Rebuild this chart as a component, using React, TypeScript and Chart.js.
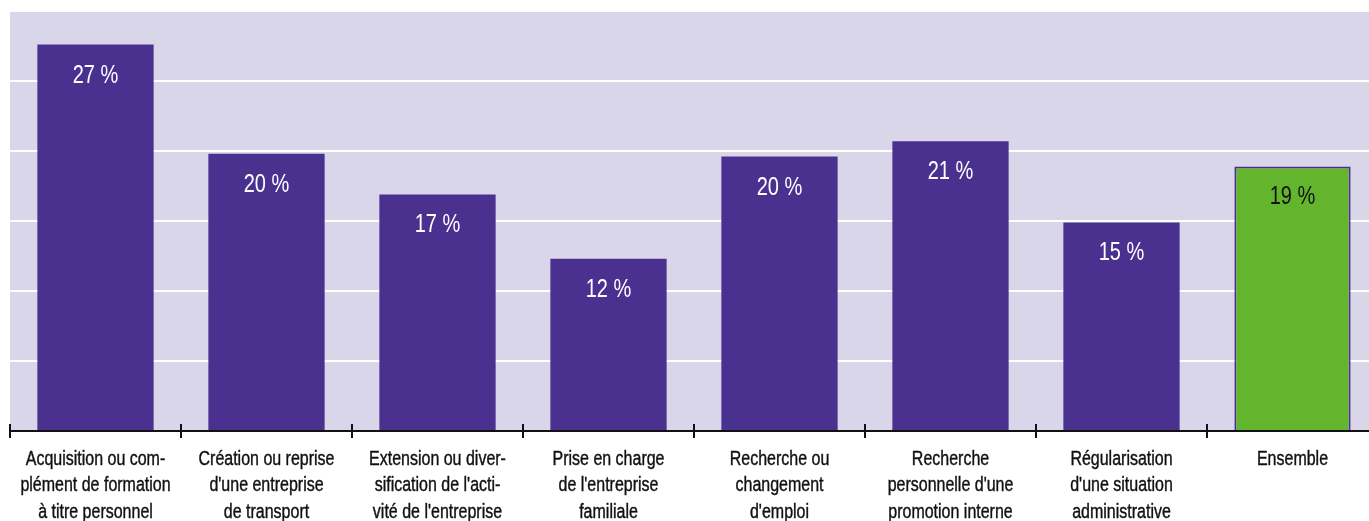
import React, { useEffect, useRef } from "react";
import { Chart, registerables } from "chart.js";

Chart.register(...registerables);

const categories: string[][] = [
  ["Acquisition ou com-", "plément de formation", "à titre personnel"],
  ["Création ou reprise", "d'une entreprise", "de transport"],
  ["Extension ou diver-", "sification de l'acti-", "vité de l'entreprise"],
  ["Prise en charge", "de l'entreprise", "familiale"],
  ["Recherche ou", "changement", "d'emploi"],
  ["Recherche", "personnelle d'une", "promotion interne"],
  ["Régularisation", "d'une situation", "administrative"],
  ["Ensemble"],
];
const values: number[] = [27.6, 19.8, 16.9, 12.3, 19.6, 20.7, 14.9, 18.9];
const valueLabels: string[] = ["27 %", "20 %", "17 %", "12 %", "20 %", "21 %", "15 %", "19 %"];
const barColors: string[] = ["#4a3190", "#4a3190", "#4a3190", "#4a3190", "#4a3190", "#4a3190", "#4a3190", "#64b52e"];
const labelColors: string[] = ["#ffffff", "#ffffff", "#ffffff", "#ffffff", "#ffffff", "#ffffff", "#ffffff", "#111111"];
const borderWidths: number[] = [0, 0, 0, 0, 0, 0, 0, 2];

const FONT = "'Liberation Sans', Arial, sans-serif";

function drawNarrow(ctx: CanvasRenderingContext2D, text: string, x: number, y: number, scaleX: number, stroke: number) {
  ctx.save();
  ctx.translate(x, y);
  ctx.scale(scaleX, 1);
  ctx.fillText(text, 0, 0);
  if (stroke > 0) {
    ctx.lineWidth = stroke;
    ctx.strokeStyle = ctx.fillStyle as string;
    ctx.strokeText(text, 0, 0);
  }
  ctx.restore();
}

const bgPlugin = {
  id: "plotBg",
  beforeDraw(chart: any) {
    const { ctx, chartArea } = chart;
    ctx.save();
    ctx.fillStyle = "#d9d6e9";
    ctx.fillRect(chartArea.left, chartArea.top, chartArea.right - chartArea.left, chartArea.bottom - chartArea.top);
    ctx.restore();
  },
};

const overlayPlugin = {
  id: "overlay",
  afterDraw(chart: any) {
    const { ctx, chartArea } = chart;
    const xs = chart.scales.x;
    const meta = chart.getDatasetMeta(0);
    ctx.save();
    // value labels
    ctx.font = `25px ${FONT}`;
    ctx.textAlign = "center";
    ctx.textBaseline = "alphabetic";
    meta.data.forEach((bar: any, i: number) => {
      ctx.fillStyle = labelColors[i];
      drawNarrow(ctx, valueLabels[i], bar.x, bar.y + 38, 0.8, 0);
    });
    // category labels
    ctx.font = `19.5px ${FONT}`;
    ctx.fillStyle = "#111111";
    categories.forEach((lines, i) => {
      const x = xs.getPixelForTick(i);
      lines.forEach((line, j) => {
        drawNarrow(ctx, line, x, chartArea.bottom + 34 + j * 26.3, 0.82, 0.4);
      });
    });
    // axis line
    ctx.strokeStyle = "#111111";
    ctx.lineWidth = 2;
    ctx.beginPath();
    ctx.moveTo(chartArea.left, chartArea.bottom);
    ctx.lineTo(chartArea.right, chartArea.bottom);
    ctx.stroke();
    // tick marks at category boundaries
    const half = (xs.getPixelForTick(1) - xs.getPixelForTick(0)) / 2;
    for (let i = 0; i < categories.length; i++) {
      const x = Math.round(xs.getPixelForTick(i) - half);
      ctx.beginPath();
      ctx.moveTo(x, chartArea.bottom - 7);
      ctx.lineTo(x, chartArea.bottom + 7);
      ctx.stroke();
    }
    ctx.restore();
  },
};

export default function App() {
  const ref = useRef<HTMLCanvasElement | null>(null);
  useEffect(() => {
    if (!ref.current) return;
    const chart = new Chart(ref.current, {
      type: "bar",
      data: {
        labels: categories.map((c) => c.join(" ")),
        datasets: [
          {
            data: values,
            backgroundColor: barColors,
            borderColor: "#4a3190",
            borderWidth: borderWidths,
            borderSkipped: "bottom",
            barPercentage: 0.68,
            categoryPercentage: 1,
          },
        ],
      },
      options: {
        responsive: false,
        animation: false,
        layout: { padding: { left: 10, top: 11, right: 0, bottom: 0 } },
        plugins: { legend: { display: false }, tooltip: { enabled: false }, title: { display: false } },
        scales: {
          x: {
            grid: { display: false, drawTicks: false },
            border: { display: false },
            ticks: { display: false },
            afterFit(scale: any) {
              scale.height = 90;
            },
          },
          y: {
            display: true,
            min: 0,
            max: 30,
            ticks: { display: false, stepSize: 5 },
            grid: { color: "#ffffff", lineWidth: 2, drawTicks: false },
            border: { display: false },
            afterFit(scale: any) {
              scale.width = 0;
            },
          },
        },
      },
      plugins: [bgPlugin, overlayPlugin],
    });
    return () => chart.destroy();
  }, []);
  return (
    <div style={{ position: "fixed", left: 0, top: 0, width: 1369, height: 521, overflow: "hidden", background: "#ffffff" }}>
      <canvas ref={ref} width={1378} height={521} style={{ display: "block" }} />
    </div>
  );
}
